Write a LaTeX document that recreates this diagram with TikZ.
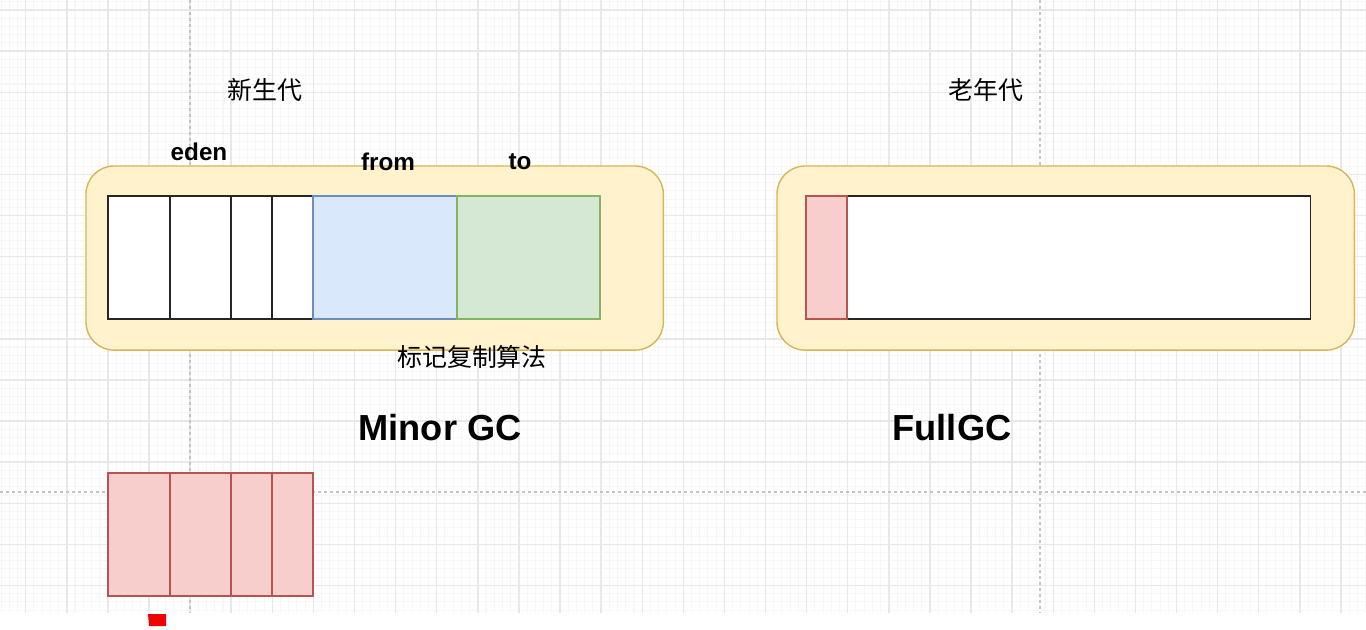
\documentclass[tikz,border=0pt]{standalone}
\usepackage{fontspec}
\setmainfont{Liberation Sans}
\newfontfamily\cjk{Noto Sans CJK SC}
\usepackage{tikz}
\usetikzlibrary{positioning}

\definecolor{poolfill}{HTML}{FFF2CC}
\definecolor{pooldraw}{HTML}{D6B656}
\definecolor{fromfill}{HTML}{DAE8FC}
\definecolor{fromdraw}{HTML}{6C8EBF}
\definecolor{tofill}{HTML}{D5E8D4}
\definecolor{todraw}{HTML}{82B366}
\definecolor{deadfill}{HTML}{F8CECC}
\definecolor{deaddraw}{HTML}{B85450}
\definecolor{gridminor}{HTML}{F7F7F7}
\definecolor{gridmajor}{HTML}{E8E8E8}
\definecolor{pagebreak}{HTML}{C4C4C4}

\begin{document}
\begin{tikzpicture}[x=0.01cm,y=-0.01cm,node distance=0pt,
  pool/.style={draw=pooldraw, fill=poolfill, rounded corners=0.28cm, line width=0.4pt,
    minimum width=5.77cm, minimum height=1.84cm, anchor=north west, inner sep=0pt, outer sep=0pt},
  cell/.style={draw=black!85, fill=white, line width=0.45pt, minimum height=1.23cm,
    inner sep=0pt, outer sep=0pt},
  deadcell/.style={cell, draw=deaddraw, fill=deadfill},
  fromcell/.style={cell, draw=fromdraw, fill=fromfill},
  tocell/.style={cell, draw=todraw, fill=tofill},
  lbl/.style={font=\bfseries\fontsize{6.9}{8}\selectfont, inner sep=0pt},
  cnlbl/.style={font=\cjk\fontsize{7.1}{8}\selectfont, inner sep=0pt},
  gclbl/.style={font=\bfseries\fontsize{10.3}{12}\selectfont, inner sep=0pt},
  minorline/.style={draw=gridminor, line width=0.3pt},
  majorline/.style={draw=gridmajor, line width=0.4pt},
  breakline/.style={draw=pagebreak, line width=0.4pt, dash pattern=on 0.03cm off 0.03cm}]
  \useasboundingbox (0,0) rectangle (1366,630);
  \fill[white] (0,0) rectangle (1366,630);

  % grid
  \foreach \i in {0,...,166} \draw[minorline] ({1.04+8.22*\i},0) -- ({1.04+8.22*\i},613);
  \foreach \j in {0,...,74} \draw[minorline] (0,{1.78+8.22*\j}) -- (1366,{1.78+8.22*\j});
  \foreach \i in {0,...,32} \draw[majorline] ({25.7+41.1*\i},0) -- ({25.7+41.1*\i},613);
  \foreach \j in {0,...,14} \draw[majorline] (0,{10+41.1*\j}) -- (1366,{10+41.1*\j});
  \draw[breakline] (190,0) -- (190,613);
  \draw[breakline] (1040,0) -- (1040,613);
  \draw[breakline] (0,492) -- (1366,492);

  % young generation
  \node[pool] (young) at (86,166) {};
  \node[cell, minimum width=0.62cm, anchor=north west] (e1) at (108,196) {};
  \node[cell, minimum width=0.61cm, right=of e1] (e2) {};
  \node[cell, minimum width=0.41cm, right=of e2] (e3) {};
  \node[cell, minimum width=0.41cm, right=of e3] (e4) {};
  \node[fromcell, minimum width=1.44cm, right=of e4] (from) {};
  \node[tocell, minimum width=1.43cm, right=of from] (to) {};

  % old generation
  \node[pool] (old) at (777,166) {};
  \node[cell, minimum width=5.04cm, anchor=north west] (tenured) at (806,196) {};
  \node[deadcell, minimum width=0.41cm, anchor=north west] (garbage) at (806,196) {};

  % swept eden
  \node[deadcell, minimum width=0.62cm, anchor=north west] (d1) at (108,473) {};
  \node[deadcell, minimum width=0.61cm, right=of d1] (d2) {};
  \node[deadcell, minimum width=0.41cm, right=of d2] (d3) {};
  \node[deadcell, minimum width=0.41cm, right=of d3] (d4) {};
  \fill[red!95!black] (148,614) -- (166,614) -- (166,626) -- (149,626) -- cycle;

  % labels
  \node[cnlbl] (younglbl) at (265,90) {新生代};
  \node[cnlbl] (oldlbl) at (986,90) {老年代};
  \node[lbl] (edenlbl) at (199,152) {eden};
  \node[lbl] (fromlbl) at (388,162) {from};
  \node[lbl] (tolbl) at (520,162) {to};
  \node[cnlbl] (copylbl) at (472,357) {标记复制算法};
  \node[gclbl] (minorlbl) at (440,428) {Minor GC};
  \node[gclbl] (fulllbl) at (952,428) {FullGC};
\end{tikzpicture}
\end{document}
